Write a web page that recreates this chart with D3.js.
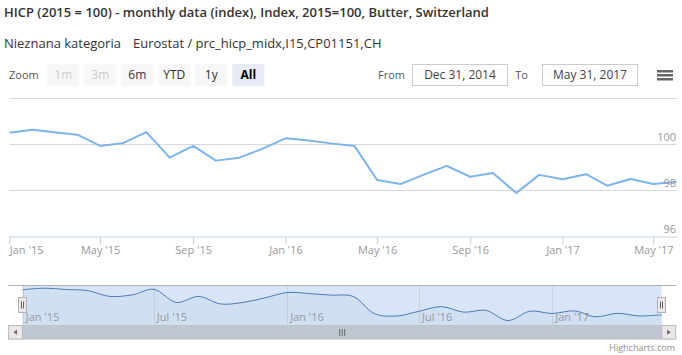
<!DOCTYPE html>
<html><head><meta charset="utf-8">
<script src="https://cdn.jsdelivr.net/npm/d3@7"></script>
<style>
html,body{margin:0;padding:0;background:#fff;}
svg{display:block;font-family:"Open Sans",sans-serif;}
</style></head>
<body><svg id="c" width="682" height="355"></svg>
<script>
// ---- data ----
const months = ["2015-01","2015-02","2015-03","2015-04","2015-05","2015-06","2015-07","2015-08","2015-09","2015-10","2015-11","2015-12",
"2016-01","2016-02","2016-03","2016-04","2016-05","2016-06","2016-07","2016-08","2016-09","2016-10","2016-11","2016-12",
"2017-01","2017-02","2017-03","2017-04","2017-05","2017-06"];
const values = [100.50,100.63,100.52,100.42,99.93,100.06,100.53,99.42,99.93,99.29,99.42,99.80,
100.26,100.17,100.04,99.93,98.45,98.27,98.67,99.06,98.59,98.75,97.88,98.67,
98.48,98.70,98.20,98.49,98.27,98.37];
const yTicks = [96,98,100,102];
const xTickMonths = ["2015-01","2015-05","2015-09","2016-01","2016-05","2016-09","2017-01","2017-05"];
const navTickMonths = ["2015-01","2015-07","2016-01","2016-07","2017-01"];
const zoomButtons = ["1m","3m","6m","YTD","1y","All"];
const disabledButtons = ["1m","3m"];
const selectedButton = "All";
const titleText = "HICP (2015 = 100) - monthly data (index), Index, 2015=100, Butter, Switzerland";
const subtitleA = "Nieznana kategoria";
const subtitleB = "Eurostat / prc_hicp_midx,I15,CP01151,CH";
const fromText = "Dec 31, 2014", toText = "May 31, 2017";

const parse = s => { const [y,m] = s.split("-").map(Number); return new Date(Date.UTC(y, m-1, 1)); };
const data = months.map((m,i)=>({d:parse(m), v:values[i]}));
const fmt = d3.utcFormat("%b '%y");

const svg = d3.select("#c");

// ---- title ----
svg.append("text").attr("x",4).attr("y",17).attr("font-size",13).attr("font-weight",600)
  .attr("fill","#333").text(titleText);
svg.append("text").attr("x",4).attr("y",48).attr("font-size",13).attr("fill","#333").text(subtitleA);
svg.append("text").attr("x",133).attr("y",48).attr("font-size",13).attr("fill","#333").text(subtitleB);

// ---- range selector ----
svg.append("text").attr("x",9).attr("y",78.5).attr("font-size",11).attr("fill","#555").text("Zoom");
const bw = 32, bh = 22, bx0 = 47.3, bgap = 37;
const btn = svg.append("g").selectAll("g").data(zoomButtons).join("g")
  .attr("transform",(d,i)=>`translate(${bx0+i*bgap},64)`);
btn.append("rect").attr("width",bw).attr("height",bh)
  .attr("fill",d=>d===selectedButton?"#e6ebf5":"#f7f7f7");
btn.append("text").attr("x",bw/2).attr("y",14.7).attr("text-anchor","middle").attr("font-size",12)
  .attr("font-weight",d=>d===selectedButton?"bold":"normal")
  .attr("fill",d=>disabledButtons.includes(d)?"#cccccc":(d===selectedButton?"#000":"#333")).text(d=>d);

svg.append("text").attr("x",405).attr("y",78.5).attr("text-anchor","end").attr("font-size",11).attr("fill","#555").text("From");
svg.append("rect").attr("x",412.5).attr("y",64.5).attr("width",95).attr("height",21).attr("fill","#fff").attr("stroke","#ccc");
svg.append("text").attr("x",460).attr("y",79).attr("text-anchor","middle").attr("font-size",12).attr("fill","#444").text(fromText);
svg.append("text").attr("x",528).attr("y",78.5).attr("text-anchor","end").attr("font-size",11).attr("fill","#555").text("To");
svg.append("rect").attr("x",542.5).attr("y",64.5).attr("width",95).attr("height",21).attr("fill","#fff").attr("stroke","#ccc");
svg.append("text").attr("x",590).attr("y",79).attr("text-anchor","middle").attr("font-size",12).attr("fill","#444").text(toText);
// menu icon
[0,1,2].forEach(i=>svg.append("rect").attr("x",657).attr("y",70+i*4).attr("width",16).attr("height",2.5).attr("fill","#666"));

// ---- main plot ----
const x = d3.scaleUtc().domain(d3.extent(data,d=>d.d)).range([9.3,676.8]);
const y = d3.scaleLinear().domain([96,102]).range([236.3,98.3]);

svg.append("g").selectAll("line").data(yTicks.filter(t=>t!==96)).join("line")
  .attr("x1",9.3).attr("x2",676.8).attr("y1",d=>Math.round(y(d))+0.5).attr("y2",d=>Math.round(y(d))+0.5)
  .attr("stroke","#d8d8d8").attr("stroke-width",1);

svg.append("defs").append("clipPath").attr("id","pc").append("rect")
  .attr("x",9.3).attr("y",90).attr("width",676.8-9.3).attr("height",150);

const line = d3.line().x(d=>x(d.d)).y(d=>y(d.v));
svg.append("path").datum(data).attr("clip-path","url(#pc)").attr("d",line)
  .attr("fill","none").attr("stroke","#7cb5ec").attr("stroke-width",2).attr("stroke-linejoin","round");

// y labels
svg.append("g").selectAll("text").data(yTicks.filter(t=>t!==102)).join("text")
  .attr("x",676).attr("y",d=>y(d)-3).attr("text-anchor","end").attr("font-size",11).attr("fill","#999").text(d=>d);

// x axis
const xAxis = d3.axisBottom(x).tickValues(xTickMonths.map(parse)).tickFormat(fmt).tickSize(8).tickSizeOuter(0);
const gx = svg.append("g").attr("transform","translate(0,236.5)").call(xAxis);
gx.select(".domain").attr("stroke","#c0d0e0");
gx.selectAll(".tick line").attr("stroke","#c0d0e0");
gx.selectAll(".tick text").attr("y",17).attr("dy",0).attr("font-size",11).attr("fill","#999")
  .attr("font-family","Open Sans");
gx.selectAll(".tick text").filter((d,i)=>i===0).attr("text-anchor","start").attr("x",0);

// ---- navigator ----
const nx = d3.scaleUtc().domain(d3.extent(data,d=>d.d)).range([22.7,661.7]);
const ny = d3.scaleLinear().domain([97.5,100.9]).range([325,285]);
svg.append("g").selectAll("line").data(navTickMonths.map(parse)).join("line")
  .attr("x1",d=>Math.round(nx(d))+0.5).attr("x2",d=>Math.round(nx(d))+0.5).attr("y1",285).attr("y2",325)
  .attr("stroke","#e6e6e6");
const nArea = d3.area().x(d=>nx(d.d)).y0(325).y1(d=>ny(d.v)).curve(d3.curveCatmullRom.alpha(0.5));
const nLine = d3.line().x(d=>nx(d.d)).y(d=>ny(d.v)).curve(d3.curveCatmullRom.alpha(0.5));
svg.append("path").datum(data).attr("d",nArea).attr("fill","rgba(69,114,167,0.06)");
svg.append("path").datum(data).attr("d",nLine).attr("fill","none").attr("stroke","#4572a7").attr("stroke-width",1);
svg.append("rect").attr("x",22.7).attr("y",285).attr("width",661.7-22.7).attr("height",40).attr("fill","rgba(100,150,220,0.25)");
svg.append("g").selectAll("text").data(navTickMonths.map(parse)).join("text")
  .attr("x",d=>nx(d)+3).attr("y",320.7).attr("font-size",11).attr("fill","#999").text(fmt);
svg.append("line").attr("x1",8.3).attr("x2",676).attr("y1",285.5).attr("y2",285.5).attr("stroke","#b2b1b6");

// handles
[22.7,661.7].forEach(cx=>{
  const g = svg.append("g").attr("transform",`translate(${Math.round(cx)-4.5},297.5)`);
  g.append("rect").attr("width",8).attr("height",15).attr("fill","#ebe7e8").attr("stroke","#b2b1b6");
  g.append("line").attr("x1",3).attr("x2",3).attr("y1",4).attr("y2",11).attr("stroke","#666");
  g.append("line").attr("x1",5).attr("x2",5).attr("y1",4).attr("y2",11).attr("stroke","#666");
});

// scrollbar
svg.append("rect").attr("x",8.5).attr("y",325.5).attr("width",667).attr("height",13.5).attr("fill","#eeeeee").attr("stroke","#ccc");
svg.append("rect").attr("x",22.7).attr("y",325.5).attr("width",661.7-22.7).attr("height",13.5).attr("fill","#bfc8d1").attr("stroke","#bbb").attr("stroke-width",0.5);
[[8.5,-1],[661.7,1]].forEach(([bx,dir])=>{
  svg.append("rect").attr("x",bx).attr("y",325.5).attr("width",14).attr("height",13.5).attr("fill","#ebe7e8").attr("stroke","#bbb");
  const cx = bx+7, cy = 332.3;
  svg.append("path").attr("d",`M${cx+dir*2},${cy} L${cx-dir*1.5},${cy-2.5} L${cx-dir*1.5},${cy+2.5} Z`).attr("fill","#666");
});
const mid = (22.7+661.7)/2;
[-2.5,0,2.5].forEach(o=>svg.append("line").attr("x1",mid+o).attr("x2",mid+o).attr("y1",329).attr("y2",336).attr("stroke","#666"));

// credits
svg.append("text").attr("x",675).attr("y",350.5).attr("text-anchor","end").attr("font-size",9).attr("fill","#909090").text("Highcharts.com");
</script></body></html>
